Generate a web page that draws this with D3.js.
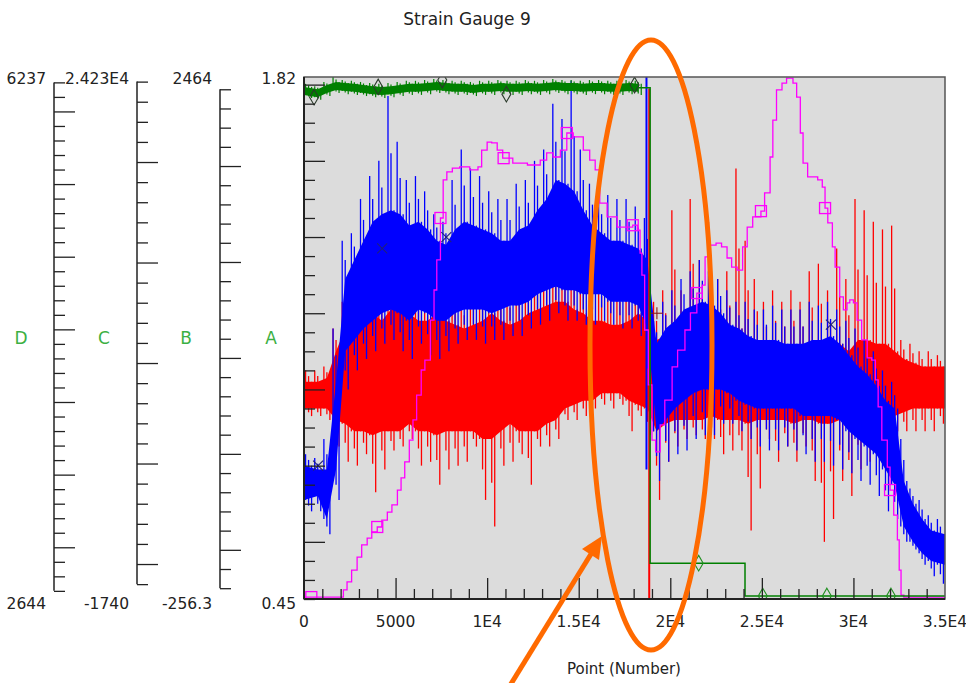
<!DOCTYPE html>
<html lang="en">
<head>
<meta charset="UTF-8">
<title>Strain Gauge 9</title>
<script src="https://d3js.org/d3.v7.min.js"></script>
<style>
  body { margin: 0; background: #fff; }
  svg text { font-family: "DejaVu Sans", Verdana, sans-serif; fill: #222; }
</style>
</head>
<body>
<svg width="966" height="683"></svg>
<script>
// Dense traces are kept as min/max per bin of 500 points (how the logger draws them)
const binSize = 500;

// Blue trace: spike max, core max, core min, spike min (A units)
const blueSpikeHi = [0.83,0.82,0.87,1.16,1.39,1.41,1.50,1.56,1.60,1.77,
  1.65,1.55,1.56,1.52,1.46,1.44,1.55,1.63,1.58,1.56,
  1.52,1.50,1.50,1.54,1.55,1.60,1.63,1.75,1.71,1.81,
  1.63,1.54,1.51,1.51,1.50,1.50,1.48,1.45,1.18,1.23,
  1.26,1.29,1.31,1.34,1.31,1.29,1.26,1.23,1.23,1.21,
  1.21,1.22,1.21,1.21,1.21,1.23,1.22,1.23,1.21,1.18,
  1.16,1.13,1.10,1.05,1.02,0.87,0.74,0.71,0.67,0.66];
const blueCoreHi = [0.80,0.79,0.79,1.02,1.29,1.34,1.39,1.44,1.46,1.47,
  1.46,1.43,1.44,1.42,1.39,1.38,1.42,1.44,1.43,1.42,
  1.41,1.39,1.39,1.42,1.43,1.47,1.50,1.55,1.54,1.52,
  1.47,1.43,1.41,1.39,1.39,1.38,1.37,1.34,1.12,1.16,
  1.18,1.21,1.22,1.23,1.22,1.20,1.17,1.16,1.14,1.13,
  1.13,1.13,1.12,1.12,1.12,1.13,1.13,1.14,1.12,1.09,
  1.06,1.04,1.01,0.97,0.95,0.76,0.70,0.66,0.63,0.62];
const blueCoreLo = [0.71,0.72,0.66,0.79,1.10,1.13,1.16,1.18,1.20,1.21,
  1.20,1.18,1.21,1.20,1.18,1.18,1.20,1.21,1.21,1.21,
  1.20,1.21,1.22,1.22,1.23,1.25,1.26,1.27,1.26,1.26,
  1.25,1.25,1.25,1.23,1.23,1.23,1.22,1.16,0.89,0.92,
  0.95,0.97,0.99,1.00,1.00,1.00,0.99,0.97,0.96,0.95,
  0.95,0.95,0.95,0.95,0.93,0.93,0.93,0.93,0.92,0.89,
  0.87,0.85,0.83,0.79,0.75,0.64,0.60,0.57,0.55,0.54];
const blueSpikeLo = [0.68,0.68,0.62,0.71,1.00,1.05,1.08,1.10,1.12,1.13,
  1.10,1.08,1.12,1.09,1.08,1.10,1.12,1.13,1.13,1.12,
  1.13,1.13,1.14,1.14,1.16,1.17,1.18,1.20,1.18,1.18,
  1.17,1.17,1.18,1.17,1.16,1.16,1.14,0.95,0.76,0.81,
  0.83,0.84,0.87,0.88,0.88,0.91,0.91,0.89,0.87,0.85,
  0.84,0.84,0.85,0.84,0.83,0.81,0.81,0.80,0.79,0.78,
  0.76,0.75,0.72,0.68,0.66,0.60,0.58,0.54,0.51,0.49];

// Red trace
const redSpikeHi = [1.05,1.05,1.06,1.16,1.23,1.26,1.29,1.31,1.29,1.34,
  1.33,1.29,1.26,1.27,1.30,1.29,1.26,1.23,1.26,1.29,
  1.30,1.27,1.26,1.27,1.31,1.34,1.37,1.50,1.44,1.39,
  1.37,1.34,1.31,1.30,1.29,1.31,1.34,1.30,1.23,1.26,
  1.47,1.26,1.50,1.34,1.44,1.29,1.31,1.58,1.39,1.29,
  1.23,1.26,1.23,1.26,1.23,1.31,1.33,1.26,1.37,1.29,
  1.50,1.47,1.44,1.42,1.43,1.13,1.12,1.10,1.10,1.09];
const redCoreHi = [1.02,1.02,1.03,1.10,1.16,1.17,1.18,1.20,1.18,1.21,
  1.22,1.20,1.18,1.18,1.20,1.18,1.17,1.16,1.17,1.18,
  1.20,1.18,1.17,1.18,1.20,1.21,1.22,1.23,1.23,1.21,
  1.20,1.18,1.18,1.17,1.17,1.18,1.20,1.18,1.13,1.14,
  1.16,1.13,1.16,1.14,1.16,1.13,1.13,1.16,1.13,1.12,
  1.10,1.10,1.10,1.10,1.10,1.12,1.12,1.10,1.12,1.10,
  1.13,1.13,1.12,1.12,1.10,1.08,1.07,1.06,1.06,1.06];
const redCoreLo = [0.95,0.95,0.95,0.92,0.91,0.89,0.89,0.88,0.89,0.89,
  0.89,0.91,0.89,0.89,0.88,0.89,0.89,0.89,0.89,0.87,
  0.87,0.89,0.91,0.89,0.89,0.89,0.91,0.92,0.95,0.96,
  0.97,0.97,0.99,0.99,0.99,0.97,0.96,0.95,0.89,0.91,
  0.92,0.92,0.92,0.92,0.93,0.92,0.92,0.92,0.91,0.92,
  0.92,0.92,0.92,0.91,0.92,0.92,0.91,0.91,0.92,0.91,
  0.92,0.92,0.92,0.93,0.93,0.94,0.95,0.95,0.95,0.95];
const redSpikeLo = [0.93,0.93,0.92,0.85,0.81,0.80,0.83,0.73,0.79,0.84,
  0.85,0.87,0.80,0.81,0.75,0.79,0.80,0.81,0.85,0.71,
  0.64,0.80,0.81,0.83,0.75,0.85,0.85,0.87,0.92,0.92,
  0.93,0.95,0.96,0.95,0.96,0.89,0.93,0.88,0.71,0.81,
  0.85,0.87,0.88,0.87,0.87,0.83,0.84,0.84,0.63,0.74,
  0.87,0.81,0.85,0.81,0.85,0.76,0.60,0.66,0.76,0.72,
  0.79,0.81,0.89,0.89,0.89,0.89,0.89,0.89,0.89,0.91];

// Single excursions at the event near point 18.8k: [point, top, bottom]
const blueEvent = [18700, 1.82, 0.79];
const redEvent = [18850, 1.79, 0.45];

// Green trace: noisy band up to the drop, then two flat steps
const greenSpikeHi = [1.802,1.796,1.807,1.820,1.812,1.810,1.807,1.804,1.802,1.804,
  1.807,1.810,1.810,1.812,1.815,1.812,1.810,1.810,1.807,1.810,
  1.810,1.812,1.810,1.810,1.812,1.810,1.812,1.815,1.812,1.812,
  1.810,1.812,1.812,1.810,1.810,1.812,1.810];
const greenCoreHi = [1.794,1.788,1.799,1.807,1.804,1.802,1.799,1.796,1.794,1.796,
  1.799,1.802,1.802,1.804,1.807,1.804,1.802,1.802,1.799,1.802,
  1.802,1.804,1.802,1.802,1.804,1.802,1.804,1.807,1.804,1.804,
  1.802,1.804,1.804,1.802,1.802,1.804,1.802];
const greenCoreLo = [1.773,1.767,1.778,1.786,1.783,1.781,1.778,1.775,1.773,1.775,
  1.778,1.781,1.781,1.783,1.786,1.783,1.781,1.781,1.778,1.781,
  1.781,1.783,1.781,1.781,1.783,1.781,1.783,1.786,1.783,1.783,
  1.781,1.783,1.783,1.781,1.781,1.783,1.781];
const greenSpikeLo = [1.765,1.760,1.770,1.778,1.775,1.773,1.770,1.767,1.765,1.767,
  1.770,1.773,1.773,1.775,1.778,1.775,1.773,1.773,1.770,1.773,
  1.773,1.775,1.773,1.773,1.775,1.773,1.775,1.778,1.775,1.775,
  1.773,1.775,1.775,1.773,1.773,1.775,1.773];
const greenTail = [[18900, 1.792], [18900, 0.544], [24080, 0.544], [24080, 0.458], [35000, 0.458]];

// Magenta trace [point, value]
const magentaPts = [[0,0.455],[1950,0.455],[2150,0.474],[2350,0.495],[2600,0.526],[2900,0.560],
  [3150,0.592],[3450,0.610],[3700,0.626],[4000,0.639],[4250,0.657],[4550,0.678],[4800,0.697],
  [5100,0.736],[5300,0.768],[5500,0.810],[5750,0.867],[5950,0.920],[6150,0.985],[6400,1.051],
  [6600,1.077],[6900,1.182],[7100,1.261],[7250,1.340],[7450,1.450],[7600,1.550],[7800,1.571],
  [8100,1.581],[8500,1.584],[9050,1.576],[9500,1.584],[9700,1.628],[10000,1.649],[10250,1.647],
  [10550,1.628],[10850,1.607],[11400,1.594],[12200,1.589],[12900,1.602],[13250,1.621],
  [13600,1.610],[14000,1.628],[14350,1.673],[14700,1.663],[15250,1.628],[15600,1.602],
  [15900,1.576],[16150,1.489],[16550,1.453],[17100,1.426],[17650,1.426],[17950,1.431],
  [18200,1.418],[18350,1.358],[18450,1.300],[18600,1.156],[18800,1.012],[19000,0.867],
  [19200,0.836],[19450,0.907],[19700,0.972],[20100,1.059],[20400,1.103],[20800,1.156],
  [21100,1.201],[21450,1.253],[21750,1.274],[21900,1.348],[22150,1.379],[22500,1.384],
  [22800,1.374],[23100,1.345],[23350,1.321],[23650,1.313],[23950,1.374],[24200,1.426],
  [24500,1.453],[24950,1.468],[25150,1.516],[25450,1.610],[25600,1.707],[25800,1.786],
  [26100,1.804],[26350,1.817],[26550,1.817],[26700,1.804],[26900,1.767],[27100,1.673],
  [27250,1.594],[27500,1.558],[28050,1.550],[28300,1.531],[28450,1.476],[28600,1.437],
  [28850,1.374],[29000,1.321],[29250,1.243],[29450,1.209],[29650,1.227],[29800,1.235],
  [30000,1.227],[30200,1.182],[30450,1.130],[30750,1.083],[31000,1.077],[31200,1.025],
  [31350,0.954],[31550,0.867],[31850,0.796],[32000,0.736],[32200,0.670],[32400,0.605],
  [32500,0.526],[32600,0.460],[32750,0.455],[35000,0.455]];

// Series markers that show through the traces
const magentaMarkP = [400, 4000, 7450, 10900, 14350, 17950, 21450, 24950, 28450, 32000];
const magentaMarkV = [0.455, 0.639, 1.450, 1.607, 1.673, 1.431, 1.253, 1.468, 1.476, 0.736];
const greenMarkP = [550, 4050, 7550, 11050, 18050, 21550, 25050, 28550, 32050];
const greenMarkV = [1.767, 1.794, 1.812, 1.775, 1.799, 0.544, 0.458, 0.458, 0.458];
const blueMarkP = [770, 4270, 7770, 28770];
const blueMarkV = [0.80, 1.37, 1.40, 1.17];
const redMarkP = [19270];
const redMarkV = [1.20];

// Axes
const xTickValues = [0, 5000, 10000, 15000, 20000, 25000, 30000, 35000];
const xTickLabels = ["0", "5000", "1E4", "1.5E4", "2E4", "2.5E4", "3E4", "3.5E4"];
const axisNames = ["D", "C", "B", "A"];
const axisMin = [2644, -1740, -256.3, 0.45];
const axisMax = [6237, 24230, 2464, 1.82];
const axisMinLabel = ["2644", "-1740", "-256.3", "0.45"];
const axisMaxLabel = ["6237", "2.423E4", "2464", "1.82"];

const svg = d3.select("svg");
const L = 304, R = 945, T = 77, B = 599;

const x = d3.scaleLinear().domain([0, 35000]).range([L, R]);
const yScales = axisMin.map((m, i) => d3.scaleLinear().domain([m, axisMax[i]]).range([B, T]));
const yA = yScales[3];

// title
svg.append("text").attr("x", 467).attr("y", 25).attr("text-anchor", "middle")
  .style("font-size", "17px").text("Strain Gauge 9");

// plot background
svg.append("rect").attr("x", L).attr("y", T).attr("width", R - L).attr("height", B - T)
  .attr("fill", "#dcdcdc");

svg.append("clipPath").attr("id", "plotClip").append("rect")
  .attr("x", L).attr("y", T).attr("width", R - L).attr("height", B - T);
const plot = svg.append("g").attr("clip-path", "url(#plotClip)");

const bins = blueSpikeHi.map((d, k) => k * binSize + binSize / 2);

function drawCore(hi, lo, color, closeRight) {
  const n = hi.length;
  const rows = hi.map((h, k) => ({
    p: k === 0 ? 0 : (closeRight && k === n - 1 ? 35000 : bins[k]),
    hi: h, lo: lo[k]
  }));
  plot.append("path").datum(rows)
    .attr("d", d3.area().x(d => x(d.p)).y0(d => yA(d.lo)).y1(d => yA(d.hi)))
    .attr("fill", color);
}

// three strokes per bin: upward excursion, middle, downward excursion
function drawSpikes(sHi, cHi, cLo, sLo, color, w) {
  const rows = [];
  sHi.forEach((d, k) => {
    const c = x(bins[k]);
    rows.push({ px: c - 3, y1: sHi[k], y2: cLo[k] });
    rows.push({ px: c, y1: (sHi[k] + cHi[k]) / 2, y2: (sLo[k] + cLo[k]) / 2 });
    rows.push({ px: c + 3, y1: cHi[k], y2: sLo[k] });
  });
  plot.append("g").selectAll("line").data(rows).join("line")
    .attr("x1", d => d.px).attr("x2", d => d.px)
    .attr("y1", d => yA(d.y1)).attr("y2", d => yA(d.y2))
    .attr("stroke", color).attr("stroke-width", w);
}

function drawEvent(ev, color) {
  plot.append("line").attr("x1", x(ev[0])).attr("x2", x(ev[0]))
    .attr("y1", yA(ev[1])).attr("y2", yA(ev[2]))
    .attr("stroke", color).attr("stroke-width", 2);
}

drawCore(redCoreHi, redCoreLo, "#ff0000", true);
drawSpikes(redSpikeHi, redCoreHi, redCoreLo, redSpikeLo, "#ff0000", 1.3);
drawCore(blueCoreHi, blueCoreLo, "#0000ff", true);
drawSpikes(blueSpikeHi, blueCoreHi, blueCoreLo, blueSpikeLo, "#0000ff", 1.3);
drawEvent(blueEvent, "#0000ff");
drawEvent(redEvent, "#ff0000");

// magenta
plot.append("path").datum(magentaPts)
  .attr("d", d3.line().x(d => x(d[0])).y(d => yA(d[1])).curve(d3.curveStepAfter))
  .attr("fill", "none").attr("stroke", "#ff00ff").attr("stroke-width", 1.3);

// green
drawCore(greenCoreHi, greenCoreLo, "#008000", false);
drawSpikes(greenSpikeHi, greenCoreHi, greenCoreLo, greenSpikeLo, "#008000", 1.2);
const gLast = greenCoreHi.length - 1;
const greenLine = [[bins[gLast], (greenCoreHi[gLast] + greenCoreLo[gLast]) / 2]].concat(greenTail);
plot.append("path").datum(greenLine)
  .attr("d", d3.line().x(d => x(d[0])).y(d => yA(d[1])))
  .attr("fill", "none").attr("stroke", "#008000").attr("stroke-width", 1.5);

// markers
plot.append("g").selectAll("rect").data(magentaMarkP).join("rect")
  .attr("x", d => x(d) - 5.5).attr("y", (d, i) => yA(magentaMarkV[i]) - 5.5)
  .attr("width", 11).attr("height", 11)
  .attr("fill", "none").attr("stroke", "#ff00ff").attr("stroke-width", 1.3);

const diamond = d3.symbol().type(d3.symbolDiamond).size(70);
plot.append("g").selectAll("path").data(greenMarkP).join("path")
  .attr("transform", (d, i) => `translate(${x(d)},${yA(greenMarkV[i])})`)
  .attr("d", diamond).attr("fill", "none")
  .attr("stroke", (d, i) => greenMarkV[i] > 1 ? "#2a3a2a" : "#1f8f1f").attr("stroke-width", 1.1);

const blueX = plot.append("g").selectAll("g").data(blueMarkP).join("g")
  .attr("transform", (d, i) => `translate(${x(d)},${yA(blueMarkV[i])})`);
blueX.append("line").attr("x1", -5).attr("y1", -5).attr("x2", 5).attr("y2", 5);
blueX.append("line").attr("x1", -5).attr("y1", 5).attr("x2", 5).attr("y2", -5);
blueX.selectAll("line").attr("stroke", "#20207a").attr("stroke-width", 1.1);

const redP = plot.append("g").selectAll("g").data(redMarkP).join("g")
  .attr("transform", (d, i) => `translate(${x(d)},${yA(redMarkV[i])})`);
redP.append("line").attr("x1", -6).attr("x2", 6).attr("y1", 0).attr("y2", 0);
redP.append("line").attr("x1", 0).attr("x2", 0).attr("y1", -6).attr("y2", 6);
redP.selectAll("line").attr("stroke", "#8a1a1a").attr("stroke-width", 1.1);

// frame
svg.append("rect").attr("x", L).attr("y", T).attr("width", R - L).attr("height", B - T)
  .attr("fill", "none").attr("stroke", "#555").attr("stroke-width", 1.5);
svg.append("line").attr("x1", L).attr("x2", L).attr("y1", T).attr("y2", B)
  .attr("stroke", "#222").attr("stroke-width", 2);
svg.append("line").attr("x1", L).attr("x2", R).attr("y1", B).attr("y2", B)
  .attr("stroke", "#222").attr("stroke-width", 2);

// x axis ticks (inside, pointing up)
const xMinor = d3.range(1000, 35000, 1000).filter(v => v % 5000 !== 0);
const xMajor = d3.range(5000, 35000, 5000);
const xAxisG = svg.append("g").attr("transform", `translate(0,${B})`);
xAxisG.append("g").call(d3.axisTop(x).tickValues(xMinor).tickSize(10).tickFormat(""));
xAxisG.append("g").call(d3.axisTop(x).tickValues(xMajor).tickSize(21).tickFormat(""));
xAxisG.selectAll(".domain").remove();
xAxisG.selectAll(".tick line").attr("stroke", "#222").attr("stroke-width", 1.3);
svg.append("g").selectAll("text").data(xTickValues).join("text")
  .attr("x", d => x(d)).attr("y", 627).attr("text-anchor", "middle")
  .style("font-size", "15.5px").text((d, i) => xTickLabels[i]);
svg.append("text").attr("x", 624).attr("y", 674).attr("text-anchor", "middle")
  .style("font-size", "15px").text("Point (Number)");

// vertical axes D, C, B, A
const axisX = [54, 137, 220, 304];
const axisStep = [100, 1000, 100, 0.05];
const axisMajorEvery = [5, 5, 5, 4];
const nameX = [21, 104, 186, 271];

axisNames.forEach((name, i) => {
  const s = yScales[i];
  const step = axisStep[i];
  const k0 = Math.ceil(axisMin[i] / step - 1e-9), k1 = Math.floor(axisMax[i] / step + 1e-9);
  const ks = d3.range(k0, k1 + 1);
  const minor = ks.filter(k => k % axisMajorEvery[i] !== 0).map(k => k * step);
  const major = ks.filter(k => k % axisMajorEvery[i] === 0).map(k => k * step);
  const g = svg.append("g").attr("transform", `translate(${axisX[i]},0)`);
  g.append("g").call(d3.axisRight(s).tickValues(minor).tickSize(11).tickFormat(""));
  g.append("g").call(d3.axisRight(s).tickValues(major).tickSize(21).tickFormat(""));
  g.selectAll(".domain").remove();
  g.selectAll(".tick line").attr("stroke", "#222").attr("stroke-width", 1.3);
  if (i < 3) {
    g.append("line").attr("x1", 0).attr("x2", 0)
      .attr("y1", s(ks[ks.length - 1] * step)).attr("y2", s(ks[0] * step))
      .attr("stroke", "#222").attr("stroke-width", 1.5);
  }
  svg.append("text").attr("x", axisX[i] - 8).attr("y", 84).attr("text-anchor", "end")
    .style("font-size", "15.5px").text(axisMaxLabel[i]);
  svg.append("text").attr("x", axisX[i] - 8).attr("y", 609).attr("text-anchor", "end")
    .style("font-size", "15.5px").text(axisMinLabel[i]);
  svg.append("text").attr("x", nameX[i]).attr("y", 344).attr("text-anchor", "middle")
    .style("font-size", "17px").style("fill", "#3cb043").text(name);
});

// annotation: orange ellipse and arrow
svg.append("ellipse").attr("cx", 651).attr("cy", 345).attr("rx", 61).attr("ry", 305)
  .attr("fill", "none").attr("stroke", "#ff6a00").attr("stroke-width", 5);
svg.append("line").attr("x1", 506).attr("y1", 692).attr("x2", 591).attr("y2", 554)
  .attr("stroke", "#ff6a00").attr("stroke-width", 5);
svg.append("polygon").attr("points", "602,536 599,560 582,549")
  .attr("fill", "#ff6a00");
</script>
</body>
</html>
